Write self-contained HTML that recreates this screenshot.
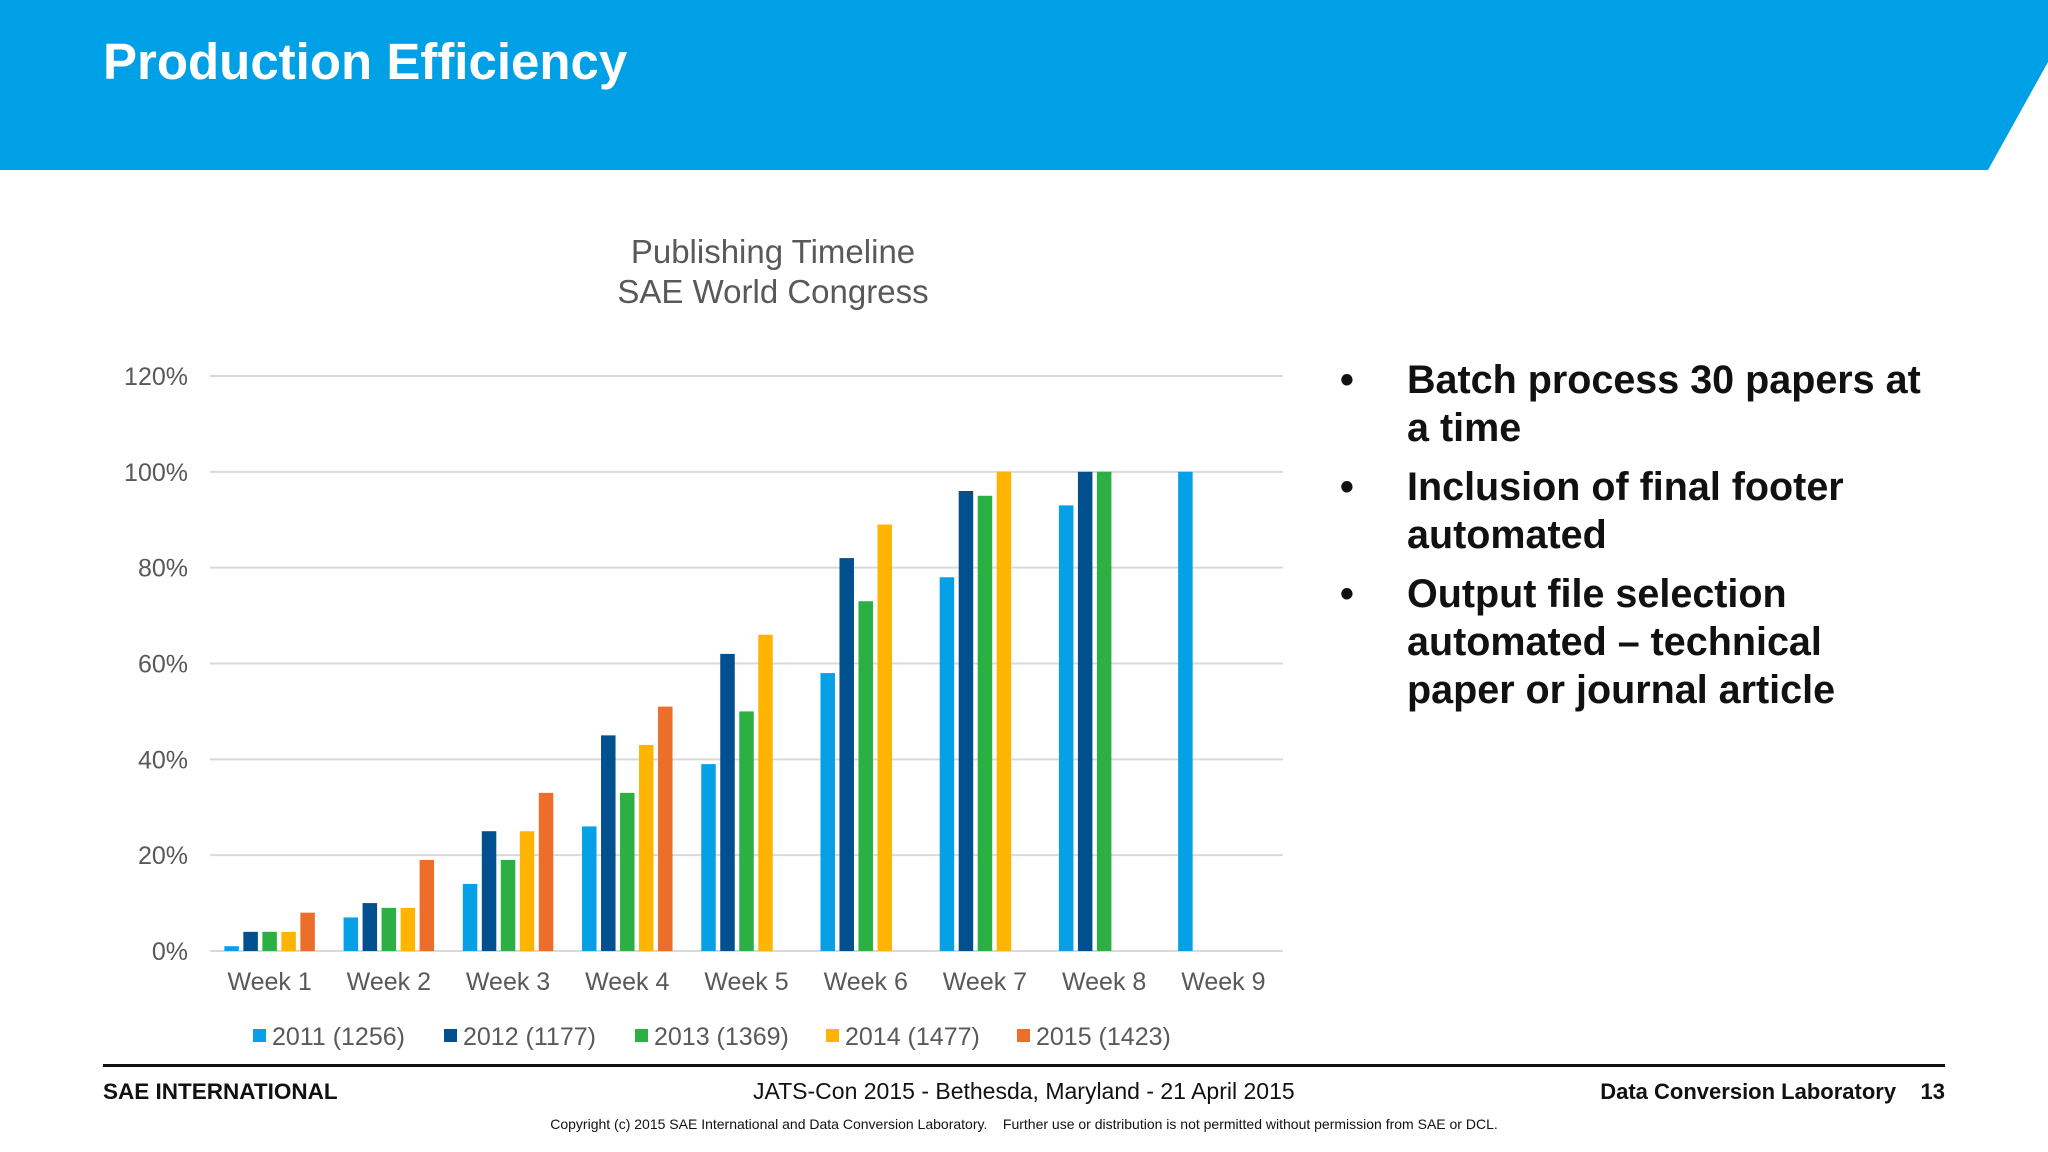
<!DOCTYPE html>
<html><head><meta charset="utf-8"><style>
html,body{margin:0;padding:0;background:#fff}
body{width:2048px;height:1152px;position:relative;overflow:hidden;font-family:"Liberation Sans",Arial,sans-serif}
.abs{position:absolute;white-space:nowrap}
</style></head><body>
<svg class="abs" style="left:0;top:0" width="2048" height="172"><polygon points="0,0 2048,0 2048,62 1988,170 0,170" fill="#00a0e6"/></svg>
<div class="abs" style="left:103px;top:32px;font-size:51px;font-weight:bold;color:#fff">Production Efficiency</div>

<svg id="chart" class="abs" style="left:0;top:0" width="1320" height="1060"></svg>

<div class="abs" style="left:1340px;top:356px;font-size:39.5px;font-weight:bold;color:#111;line-height:48px">
<div style="position:relative;padding-left:67px;margin-bottom:11px"><span style="position:absolute;left:0">•</span>Batch process 30 papers at<br>a time</div>
<div style="position:relative;padding-left:67px;margin-bottom:11px"><span style="position:absolute;left:0">•</span>Inclusion of final footer<br>automated</div>
<div style="position:relative;padding-left:67px"><span style="position:absolute;left:0">•</span>Output file selection<br>automated – technical<br>paper or journal article</div>
</div>

<div class="abs" style="left:103px;top:1064px;width:1842px;height:3px;background:#111"></div>
<div class="abs" style="left:103px;top:1079px;font-size:22.5px;font-weight:bold;color:#111">SAE INTERNATIONAL</div>
<div class="abs" style="left:753px;top:1078px;font-size:23px;color:#111">JATS-Con 2015 - Bethesda, Maryland - 21 April 2015</div>
<div class="abs" style="right:103px;top:1079px;font-size:22px;font-weight:bold;color:#111">Data Conversion Laboratory&nbsp;&nbsp;&nbsp;&nbsp;13</div>
<div class="abs" style="left:0;width:2048px;text-align:center;top:1116px;font-size:14px;color:#111">Copyright (c) 2015 SAE International and Data Conversion Laboratory.&nbsp;&nbsp;&nbsp; Further use or distribution is not permitted without permission from SAE or DCL.</div>

<script>
const categories=["Week 1","Week 2","Week 3","Week 4","Week 5","Week 6","Week 7","Week 8","Week 9"];
const seriesNames=["2011 (1256)","2012 (1177)","2013 (1369)","2014 (1477)","2015 (1423)"];
const s2011=[1,7,14,26,39,58,78,93,100];
const s2012=[4,10,25,45,62,82,96,100,null];
const s2013=[4,9,19,33,50,73,95,100,null];
const s2014=[4,9,25,43,66,89,100,null,null];
const s2015=[8,19,33,51,null,null,null,null,null];
const tickValues=[0,20,40,60,80,100,120];
const colors=["#05a0e6","#00508f","#2db043","#ffb402","#ec6e2a"];
const series=[s2011,s2012,s2013,s2014,s2015];
const NS="http://www.w3.org/2000/svg";
const svg=document.getElementById('chart');
const L=210,R=1283,T=376,B=951;
const y=v=>B-(v/120)*(B-T);
const band=(R-L)/categories.length;
const x=i=>L+band*(i+0.5);
function mk(tag,attrs){const e=document.createElementNS(NS,tag);for(const k in attrs)e.setAttribute(k,attrs[k]);svg.appendChild(e);return e;}
let t=mk('text',{x:773,y:263,'text-anchor':'middle','font-size':33,fill:'#595959','font-family':'Liberation Sans, sans-serif'});t.textContent="Publishing Timeline";


t=mk('text',{x:773,y:303,'text-anchor':'middle','font-size':33,fill:'#595959','font-family':'Liberation Sans, sans-serif'});t.textContent="SAE World Congress";


tickValues.forEach(v=>{
 const g=mk('line',{x1:L,x2:R,y1:y(v),y2:y(v),stroke:'#d9d9d9','stroke-width':2});
 
 
 const l=mk('text',{x:188,y:y(v)+9,'text-anchor':'end','font-size':25,fill:'#595959','font-family':'Liberation Sans, sans-serif'});
 l.textContent=v+'%';
 
 
});
const bw=14.5,step=19;
series.forEach((s,si)=>{
 s.forEach((v,i)=>{
  if(v===null)return;
  const bx=x(i)-2*step+si*step-bw/2;
  const r=mk('rect',{x:bx,y:y(v),width:bw,height:B-y(v),fill:colors[si]});
  
  
 });
});
categories.forEach((c,i)=>{
 const l=mk('text',{x:x(i),y:990,'text-anchor':'middle','font-size':25,fill:'#595959','font-family':'Liberation Sans, sans-serif'});
 l.textContent=c;
 
 
});
const legX=[253,444,635,826,1017];
seriesNames.forEach((n,i)=>{
 const r=mk('rect',{x:legX[i],y:1029,width:13,height:13,fill:colors[i]});
 
 
 const l=mk('text',{x:legX[i]+19,y:1045,'font-size':25,fill:'#595959','font-family':'Liberation Sans, sans-serif'});
 l.textContent=n;
 
 
});
</script>
</body></html>
